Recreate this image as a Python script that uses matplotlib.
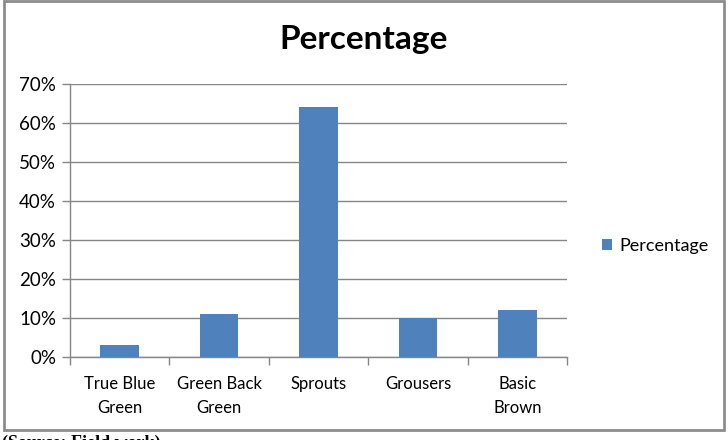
import matplotlib.pyplot as plt
from matplotlib.patches import Rectangle
from matplotlib.ticker import FuncFormatter, FixedLocator

plt.rcParams['font.family'] = ['Lato', 'DejaVu Sans']

# Data
categories = ['True Blue\nGreen', 'Green Back\nGreen', 'Sprouts', 'Grousers', 'Basic\nBrown']
values = [0.03, 0.11, 0.64, 0.10, 0.12]
series_name = 'Percentage'

BAR_COLOR = '#4F81BD'
GRID_COLOR = '#868686'

fig = plt.figure(figsize=(7.28, 4.4), dpi=100)
ax = fig.add_axes([70 / 728, 1 - 357 / 440, (567 - 70) / 728, (357 - 84) / 440])

x = list(range(len(categories)))
ax.bar(x, values, width=0.39, color=BAR_COLOR, label=series_name, zorder=3)

ax.set_xlim(-0.5, len(categories) - 0.5)
ax.set_ylim(0, 0.70)
ax.set_yticks([i / 10 for i in range(8)])
ax.yaxis.set_major_formatter(FuncFormatter(lambda v, p: f'{round(v * 100)}%'))
ax.grid(axis='y', color=GRID_COLOR, linewidth=1, zorder=0)

ax.set_xticks(x)
ax.set_xticklabels(categories, fontsize=12, linespacing=1.6)
ax.xaxis.set_minor_locator(FixedLocator([i - 0.5 for i in range(len(categories) + 1)]))
ax.tick_params(axis='x', which='major', length=0, pad=14)
ax.tick_params(axis='x', which='minor', length=6, color=GRID_COLOR, width=1)
ax.tick_params(axis='y', length=6, color=GRID_COLOR, width=1, labelsize=13.5, pad=4)

for s in ['top', 'right']:
    ax.spines[s].set_visible(False)
for s in ['left', 'bottom']:
    ax.spines[s].set_color(GRID_COLOR)
    ax.spines[s].set_linewidth(1)

fig.text(364 / 728, 1 - 40 / 440, 'Percentage', ha='center', va='center',
         fontsize=24, fontweight='bold')

leg = fig.legend(loc='center left', bbox_to_anchor=(586 / 728, 1 - 246 / 440),
                 frameon=False, fontsize=13, handlelength=0.55, handleheight=0.55,
                 handletextpad=0.4)

# chart border
fig.patches.append(Rectangle((4 / 728, 1 - 430 / 440), 720 / 728, 429 / 440,
                             transform=fig.transFigure, fill=False,
                             edgecolor='#8c8c8c', linewidth=2))

# caption under the chart, cut off at the bottom edge as in the source
fig.text(2 / 728, 1 - 435 / 440, '(Source: Field work)', ha='left', va='top',
         fontsize=13, fontweight='bold', family='Liberation Serif')

fig.savefig('out.png', dpi=100, facecolor='white')
